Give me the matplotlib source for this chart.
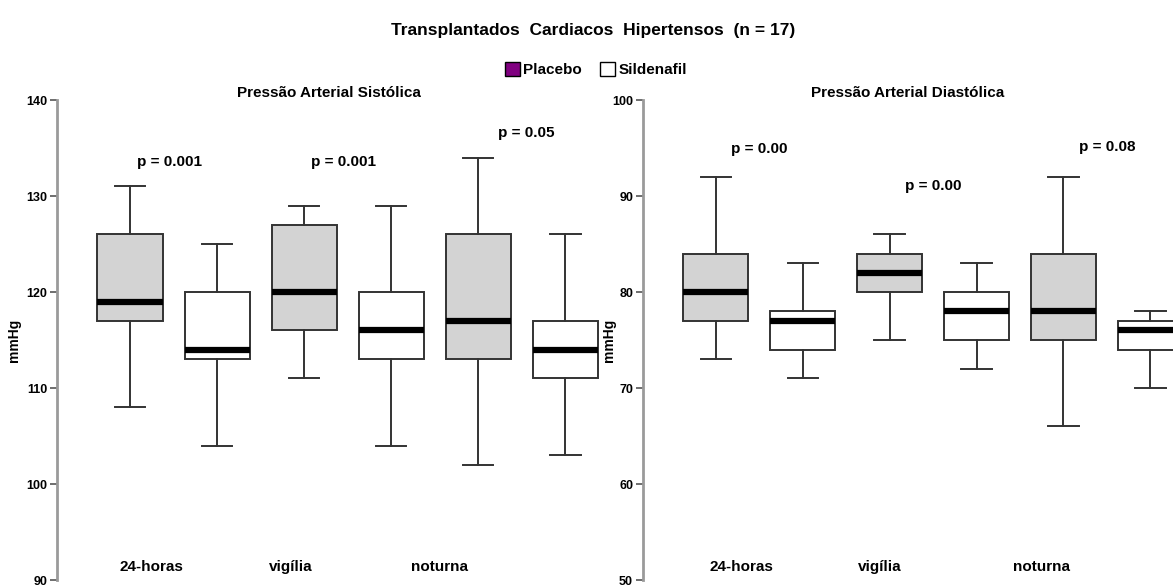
import matplotlib.pyplot as plt
from matplotlib.patches import Patch

plt.rcParams['font.family'] = ['Liberation Sans', 'DejaVu Sans']

# order: 24h placebo, 24h sildenafil, vigilia placebo, vigilia sildenafil, noturna placebo, noturna sildenafil
periods = ["24-horas", "vigília", "noturna"]

sys_whislo = [108, 104, 111, 104, 102, 103]
sys_q1 = [117, 113, 116, 113, 113, 111]
sys_med = [119, 114, 120, 116, 117, 114]
sys_q3 = [126, 120, 127, 120, 126, 117]
sys_whishi = [131, 125, 129, 129, 134, 126]
sys_p = ["p = 0.001", "p = 0.001", "p = 0.05"]

dia_whislo = [73, 71, 75, 72, 66, 70]
dia_q1 = [77, 74, 80, 75, 75, 74]
dia_med = [80, 77, 82, 78, 78, 76]
dia_q3 = [84, 78, 84, 80, 84, 77]
dia_whishi = [92, 83, 86, 83, 92, 78]
dia_p = ["p = 0.00", "p = 0.00", "p = 0.08"]

group_colors = ["#d3d3d3", "white"]
edge = "#333333"


def draw_panel(ax, lo, q1, med, q3, hi, pvals, p_xy, lab_x, title, ylim, yticks, xmax, ylab_x):
    stats = []
    for i in range(6):
        stats.append({"whislo": lo[i], "q1": q1[i], "med": med[i], "q3": q3[i],
                      "whishi": hi[i], "fliers": []})
    bp = ax.bxp(stats, positions=range(6), widths=0.75, patch_artist=True,
                showfliers=False,
                boxprops=dict(edgecolor=edge, linewidth=1.4),
                whiskerprops=dict(color=edge, linewidth=1.4),
                capprops=dict(color=edge, linewidth=1.4),
                medianprops=dict(color="black", linewidth=4.5, solid_capstyle="butt"),
                capwidths=0.35)
    for i, b in enumerate(bp["boxes"]):
        b.set_facecolor(group_colors[i % 2])
    ax.set_xlim(-0.84, xmax)
    ax.set_ylim(*ylim)
    ax.set_yticks(yticks)
    ax.set_yticklabels([str(t) for t in yticks], fontsize=9, fontweight="bold")
    ax.set_xticks([])
    for s in ["top", "right", "bottom"]:
        ax.spines[s].set_visible(False)
    ax.spines["left"].set_color("#9a9a9a")
    ax.spines["left"].set_linewidth(2)
    ax.tick_params(axis="y", length=5, width=1.2, color="#555555", pad=2)
    ax.set_ylabel("mmHg", fontsize=10, fontweight="bold")
    ax.yaxis.set_label_coords(ylab_x, 0.5)
    ax.set_title(title, fontsize=11, fontweight="bold", pad=-5)
    for (x, y), p in zip(p_xy, pvals):
        ax.text(x, y, p, ha="center", va="center", fontsize=11, fontweight="bold")
    for x, lab in zip(lab_x, periods):
        ax.text(x, ylim[0] + 1.4 * (ylim[1] - ylim[0]) / 50, lab, ha="center",
                va="center", fontsize=11, fontweight="bold")


fig = plt.figure(figsize=(11.73, 5.86), dpi=100)
ax1 = fig.add_axes([0.0486, 0.0102, 0.463, 0.819])
ax2 = fig.add_axes([0.548, 0.0102, 0.452, 0.819])

draw_panel(ax1, sys_whislo, sys_q1, sys_med, sys_q3, sys_whishi, sys_p,
           [(0.45, 133.5), (2.45, 133.5), (4.55, 136.6)], [0.25, 1.84, 3.56],
           "Pressão Arterial Sistólica", (90, 140), [90, 100, 110, 120, 130, 140], 5.4, -0.066)
draw_panel(ax2, dia_whislo, dia_q1, dia_med, dia_q3, dia_whishi, dia_p,
           [(0.5, 94.9), (2.5, 91.1), (4.5, 95.1)], [0.29, 1.89, 3.75],
           "Pressão Arterial Diastólica", (50, 100), [50, 60, 70, 80, 90, 100], 5.26, -0.051)

fig.text(0.506, 0.948, "Transplantados  Cardiacos  Hipertensos  (n = 17)",
         ha="center", va="center", fontsize=12.5, fontweight="heavy")
handles = [Patch(facecolor="#800080", edgecolor="black", label="Placebo"),
           Patch(facecolor="white", edgecolor="black", label="Sildenafil")]
fig.legend(handles=handles, loc="center", bbox_to_anchor=(0.508, 0.881), ncol=2,
           frameon=False, handlelength=1.0, handleheight=1.0, handletextpad=0.2,
           columnspacing=1.2, prop={"weight": "bold", "size": 11})

fig.savefig("out.png", dpi=100)
